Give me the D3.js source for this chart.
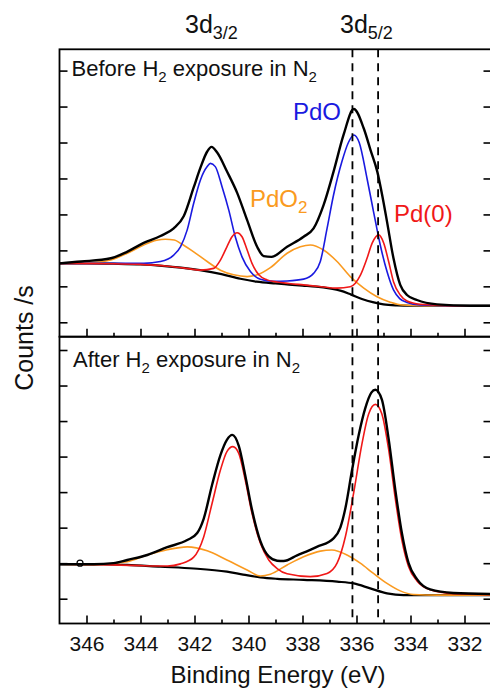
<!DOCTYPE html>
<html>
<head>
<meta charset="utf-8">
<script src="https://cdn.jsdelivr.net/npm/d3@7"></script>
<style>
  html, body { margin: 0; padding: 0; background: #fff; }
  svg { display: block; font-family: "Liberation Sans", Arial, sans-serif; }
</style>
</head>
<body>
<svg id="chart" width="490" height="689"></svg>
<script>
// ---------------- DATA (binding energy eV, intensity in tick units) ----------------
const xTicksMajor = [346, 344, 342, 340, 338, 336, 334, 332];
const xTicksMinor = [345, 343, 341, 339, 337, 335, 333];
const yTicks = [0, 1, 2, 3, 4, 5, 6, 7];
const refLines = [336.15, 335.2];

// Top panel: before H2 exposure
const topBg = [[347,1.64],[346,1.64],[345,1.63],[344,1.61],[343.2,1.57],[342.5,1.52],[341.8,1.45],[341,1.34],[340.3,1.21],[339.7,1.13],[339,1.08],[338.5,1.05],[338,1.02],[337.5,0.99],[337,0.94],[336.6,0.88],[336.2,0.77],[335.8,0.65],[335.4,0.56],[335,0.50],[334.5,0.47],[334,0.46],[333,0.46],[331,0.46]];
const topFit = [[347,1.64],[346.2,1.69],[345.1,1.78],[344.5,1.96],[343.9,2.20],[343.26,2.40],[342.77,2.61],[342.4,2.95],[342.03,3.75],[341.78,4.3],[341.53,4.75],[341.37,4.88],[341.16,4.72],[340.8,4.2],[340.42,3.6],[340.05,2.84],[339.68,2.10],[339.44,1.84],[339.15,1.82],[338.57,2.10],[337.96,2.38],[337.59,2.61],[337.22,3.26],[336.85,4.19],[336.48,5.21],[336.1,5.93],[335.73,5.39],[335.48,4.79],[335.23,4.19],[335.05,3.54],[334.87,2.80],[334.63,1.78],[334.38,1.04],[334.13,0.76],[333.76,0.62],[333.02,0.50],[331.8,0.46],[331,0.46]];
const topPdO = [[347,1.64],[345.73,1.64],[343.88,1.64],[343.26,1.69],[342.77,1.87],[342.52,2.10],[342.27,2.57],[342.03,3.31],[341.78,3.96],[341.53,4.33],[341.41,4.42],[341.23,4.33],[340.98,3.77],[340.73,3.12],[340.49,2.38],[340.24,1.82],[339.93,1.41],[339.56,1.20],[339.07,1.14],[338.57,1.15],[337.96,1.20],[337.59,1.36],[337.34,1.69],[337.09,2.61],[336.85,3.54],[336.54,4.47],[336.3,5.0],[336.1,5.21],[335.9,5.0],[335.61,4.0],[335.37,3.08],[335.12,2.15],[334.87,1.41],[334.63,0.90],[334.4,0.66],[334.13,0.55],[333.64,0.48],[332.5,0.46],[331,0.46]];
const topPdO2 = [[347,1.64],[345.73,1.66],[345.11,1.73],[344.49,1.92],[343.88,2.15],[343.4,2.28],[343.08,2.31],[342.75,2.29],[342.52,2.20],[342.03,1.96],[341.53,1.69],[341.04,1.45],[340.55,1.32],[340.05,1.27],[339.68,1.32],[339.19,1.52],[338.57,1.92],[338.08,2.10],[337.71,2.15],[337.22,2.01],[336.72,1.69],[336.23,1.27],[335.73,0.95],[335.24,0.71],[334.75,0.56],[334.3,0.48],[333.5,0.46],[331,0.46]];
const topPd0 = [[347,1.64],[345,1.63],[344,1.61],[343,1.56],[342.3,1.50],[341.78,1.45],[341.29,1.50],[341.04,1.73],[340.8,2.10],[340.61,2.38],[340.42,2.49],[340.24,2.38],[340.05,2.01],[339.87,1.64],[339.62,1.32],[339.31,1.18],[338.94,1.12],[338.5,1.08],[337.96,1.04],[337.3,0.99],[336.72,0.95],[336.23,0.99],[335.85,1.32],[335.61,1.78],[335.42,2.20],[335.18,2.43],[334.99,2.20],[334.81,1.69],[334.63,1.13],[334.38,0.76],[334.13,0.59],[333.64,0.50],[332.5,0.46],[331,0.46]];

// Bottom panel: after H2 exposure
const botBg = [[347,0.97],[345.5,0.97],[344.5,0.95],[343.26,0.90],[342.03,0.85],[340.8,0.76],[340.2,0.68],[339.56,0.60],[338.94,0.56],[337.96,0.53],[336.72,0.48],[336.1,0.43],[335.49,0.29],[334.87,0.15],[334.26,0.10],[333,0.10],[331,0.10]];
const botFit = [[347,0.97],[345.73,0.97],[345,1.0],[344.49,1.09],[343.75,1.23],[343.01,1.45],[342.27,1.65],[341.9,1.85],[341.66,2.25],[341.35,3.2],[341.04,4.04],[340.8,4.47],[340.6,4.61],[340.36,4.3],[340.12,3.47],[339.87,2.5],[339.56,1.62],[339.25,1.19],[338.94,1.07],[338.7,1.06],[338.2,1.22],[337.47,1.46],[336.85,1.70],[336.6,2.0],[336.41,2.55],[336.17,3.6],[335.92,4.6],[335.68,5.35],[335.45,5.8],[335.3,5.88],[335.06,5.6],[334.81,4.5],[334.56,3.05],[334.32,1.85],[334.07,1.0],[333.76,0.55],[333.27,0.26],[332.41,0.16],[331,0.13]];
const botPd0 = [[347,0.97],[345.5,0.96],[344,0.93],[343,0.92],[342.52,0.98],[342.03,1.17],[341.66,1.74],[341.35,2.68],[341.04,3.62],[340.8,4.14],[340.58,4.28],[340.36,4.09],[340.12,3.34],[339.87,2.40],[339.56,1.56],[339.25,1.09],[338.94,0.85],[338.57,0.70],[337.71,0.62],[337.09,0.71],[336.72,1.0],[336.41,1.75],[336.1,3.0],[335.8,4.35],[335.55,5.2],[335.3,5.47],[335.06,5.2],[334.81,4.2],[334.56,2.8],[334.32,1.65],[334.07,0.9],[333.76,0.5],[333.27,0.25],[332.41,0.14],[331,0.11]];
const botPdO2 = [[347,0.97],[345.7,0.96],[344.49,1.04],[343.75,1.23],[343.01,1.38],[342.27,1.46],[341.53,1.35],[340.8,1.09],[340.05,0.81],[339.56,0.64],[339.19,0.69],[338.57,0.95],[337.96,1.18],[337.34,1.34],[336.91,1.37],[336.35,1.23],[335.86,1.00],[335.37,0.71],[334.87,0.43],[334.38,0.22],[333.89,0.12],[333,0.10],[331,0.10]];
const botOutliers = [[346.24,1.0]];

// ---------------- STYLE ----------------
const C = { blue: "#1a1ae0", red: "#f01818", orange: "#fa9a20", black: "#000" };

const svg = d3.select("#chart");
const x = d3.scaleLinear().domain([347, 331]).range([59.5, 491.5]);
const panels = [
  { top: 49.3, bottom: 336.7, y: d3.scaleLinear().domain([0, 7]).range([322.3, 70.6]),
    bg: topBg, fit: topFit, comps: [[topPdO2, C.orange], [topPdO, C.blue], [topPd0, C.red]], outliers: [], labels: false },
  { top: 336.7, bottom: 623.5, y: d3.scaleLinear().domain([0, 7]).range([598.7, 350]),
    bg: botBg, fit: botFit, comps: [[botPdO2, C.orange], [botPd0, C.red]], outliers: botOutliers, labels: true }
];

panels.forEach(p => {
  const line = d3.line().x(d => x(d[0])).y(d => p.y(d[1])).curve(d3.curveMonotoneX);
  const g = svg.append("g");
  g.append("path").attr("d", line(p.bg)).attr("fill", "none").attr("stroke", C.black).attr("stroke-width", 2.2);
  p.comps.forEach(([data, col]) => {
    g.append("path").attr("d", line(data)).attr("fill", "none").attr("stroke", col).attr("stroke-width", 1.6);
  });
  g.append("path").attr("d", line(p.fit)).attr("fill", "none").attr("stroke", C.black).attr("stroke-width", 2.4);
  g.selectAll("circle.o").data(p.outliers).enter().append("circle")
    .attr("cx", d => x(d[0])).attr("cy", d => p.y(d[1])).attr("r", 3)
    .attr("fill", "none").attr("stroke", "#000").attr("stroke-width", 1.2);

  // x axes (ticks inward)
  const axMaj = d3.axisBottom(x).tickValues(xTicksMajor).tickSizeInner(-8).tickSizeOuter(0)
    .tickFormat(p.labels ? d3.format("d") : () => "");
  const ga = svg.append("g").attr("transform", `translate(0,${p.bottom})`).call(axMaj);
  const axMin = d3.axisBottom(x).tickValues(xTicksMinor).tickSizeInner(-4).tickSizeOuter(0).tickFormat(() => "");
  const gm = svg.append("g").attr("transform", `translate(0,${p.bottom})`).call(axMin);
  [ga, gm].forEach(s => { s.select(".domain").remove(); s.selectAll("line").attr("stroke", "#000").attr("stroke-width", 1.6); });
  ga.selectAll("text").attr("y", 27).attr("dy", 0).attr("font-size", 21).attr("fill", "#111")
    .attr("font-family", "Liberation Sans, Arial, sans-serif");

  // y axes (ticks inward both sides)
  const yl = d3.axisLeft(p.y).tickValues(yTicks).tickSizeInner(-8).tickSizeOuter(0).tickFormat(() => "");
  const yr = d3.axisRight(p.y).tickValues(yTicks).tickSizeInner(-8).tickSizeOuter(0).tickFormat(() => "");
  const gl = svg.append("g").attr("transform", `translate(59.5,0)`).call(yl);
  const gr = svg.append("g").attr("transform", `translate(491.5,0)`).call(yr);
  [gl, gr].forEach(s => { s.select(".domain").remove(); s.selectAll("line").attr("stroke", "#000").attr("stroke-width", 1.6); });

  svg.append("rect").attr("x", 59.5).attr("y", p.top).attr("width", 432).attr("height", p.bottom - p.top)
    .attr("fill", "none").attr("stroke", "#000").attr("stroke-width", 1.8);
});

// dashed reference lines
svg.selectAll("line.ref").data(refLines).enter().append("line")
  .attr("x1", d => x(d)).attr("x2", d => x(d)).attr("y1", 49.3).attr("y2", 623.5)
  .attr("stroke", "#000").attr("stroke-width", 1.8).attr("stroke-dasharray", "8,6");

// ---------------- TEXT ----------------
function subText(xp, yp, parts, size, subSize, fill) {
  const t = svg.append("text").attr("x", xp).attr("y", yp).attr("font-size", size).attr("fill", fill || "#111");
  parts.forEach(([s, isSub]) => {
    const ts = t.append("tspan").text(s);
    if (isSub) ts.attr("font-size", subSize).attr("dy", size * 0.25);
    else if (t.node().childNodes.length > 1) ts.attr("dy", -size * 0.25);
  });
  return t;
}
// fix dy reset only after a sub
function richText(xp, yp, parts, size, subSize, fill) {
  const t = svg.append("text").attr("x", xp).attr("y", yp).attr("font-size", size).attr("fill", fill || "#111");
  let prevSub = false;
  const shift = Math.round(size * 0.25);
  parts.forEach(([s, isSub]) => {
    const ts = t.append("tspan").text(s);
    if (isSub && !prevSub) ts.attr("font-size", subSize).attr("dy", shift);
    else if (!isSub && prevSub) ts.attr("dy", -shift);
    prevSub = isSub;
  });
  return t;
}

richText(185, 33, [["3d", false], ["3/2", true]], 25, 18);
richText(340, 33, [["3d", false], ["5/2", true]], 25, 18);
richText(71.5, 76, [["Before H", false], ["2", true], [" exposure in N", false], ["2", true]], 22, 15);
richText(73, 367, [["After H", false], ["2", true], [" exposure in N", false], ["2", true]], 22, 15);
richText(293, 120, [["PdO", false]], 24, 17, C.blue);
richText(250, 207, [["PdO", false], ["2", true]], 24, 17, C.orange);
richText(394, 222, [["Pd(0)", false]], 24, 17, C.red);

svg.append("text").attr("transform", "translate(33,338) rotate(-90)").attr("text-anchor", "middle")
  .attr("font-size", 25).attr("fill", "#111").text("Counts /s");
svg.append("text").attr("x", 278).attr("y", 683).attr("text-anchor", "middle")
  .attr("font-size", 24).attr("fill", "#111").text("Binding Energy (eV)");
</script>
</body>
</html>
